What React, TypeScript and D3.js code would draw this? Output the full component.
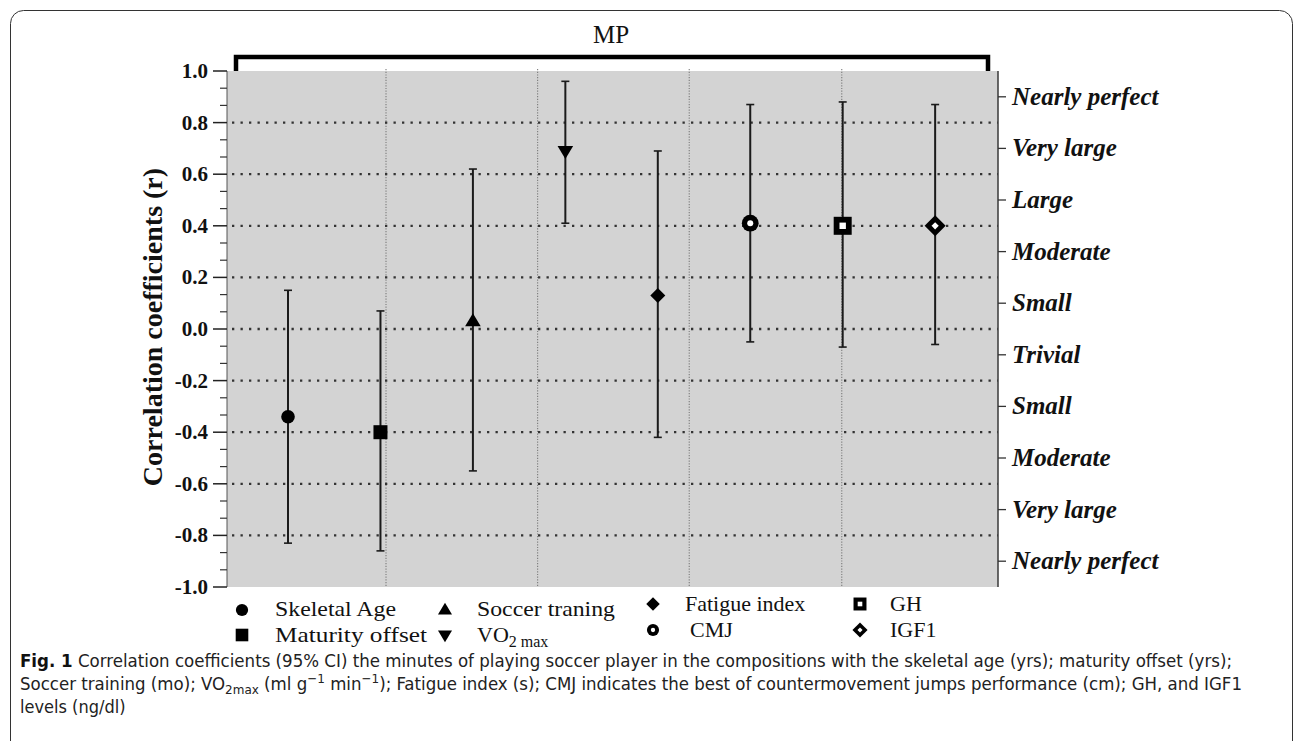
import React from "react";
import * as d3 from "d3";

// ---------------- data ----------------
const categories = ["Skeletal Age", "Maturity offset", "Soccer traning", "VO2max", "Fatigue index", "CMJ", "GH", "IGF1"];
const rValues = [-0.34, -0.4, 0.03, 0.69, 0.13, 0.41, 0.4, 0.4];
const lowerCI = [-0.83, -0.86, -0.55, 0.41, -0.42, -0.05, -0.07, -0.06];
const upperCI = [0.15, 0.07, 0.62, 0.96, 0.69, 0.87, 0.88, 0.87];
const markerTypes = ["circle", "square", "triUp", "triDown", "diamond", "openCircle", "openSquare", "openDiamond"];

const yTicks = [1.0, 0.8, 0.6, 0.4, 0.2, 0.0, -0.2, -0.4, -0.6, -0.8, -1.0];
const gridValues = [0.8, 0.6, 0.4, 0.2, 0.0, -0.2, -0.4, -0.6, -0.8];
const groupDividers = [1.06, 2.7, 4.34, 5.99];
const rightTickValues = [0.9, 0.7, 0.5, 0.3, 0.1, -0.1, -0.3, -0.5, -0.7, -0.9];
const rightLabels = ["Nearly perfect", "Very large", "Large", "Moderate", "Small", "Trivial", "Small", "Moderate", "Very large", "Nearly perfect"];

// ---------------- layout ----------------
const W = 1295, H = 741;
const PL = 227, PR = 998, PT = 71, PB = 587;
const serif = "'Liberation Serif', 'Times New Roman', serif";
const capFont = "'Liberation Sans Narrow', 'DejaVu Sans Condensed', 'Liberation Sans', sans-serif";

const x = d3.scaleLinear().domain([-0.66, 7.68]).range([PL, PR]);
const y = d3.scaleLinear().domain([-1, 1]).range([PB, PT]);

function Marker({ type, cx, cy, s = 1 }: { type: string; cx: number; cy: number; s?: number }) {
  switch (type) {
    case "circle":
      return <circle cx={cx} cy={cy} r={6.8 * s} fill="#000" />;
    case "square":
      return <rect x={cx - 7 * s} y={cy - 7 * s} width={14 * s} height={14 * s} fill="#000" />;
    case "triUp": {
      const h = 13 * s, w = 7.8 * s;
      return <path d={`M${cx},${cy - h * 0.62}L${cx + w},${cy + h * 0.38}L${cx - w},${cy + h * 0.38}Z`} fill="#000" />;
    }
    case "triDown": {
      const h = 13 * s, w = 7.8 * s;
      return <path d={`M${cx},${cy + h * 0.62}L${cx + w},${cy - h * 0.38}L${cx - w},${cy - h * 0.38}Z`} fill="#000" />;
    }
    case "diamond": {
      const r = 7.5 * s;
      return <path d={`M${cx},${cy - r}L${cx + r},${cy}L${cx},${cy + r}L${cx - r},${cy}Z`} fill="#000" />;
    }
    case "openCircle":
      return (
        <g>
          <circle cx={cx} cy={cy} r={8.4 * s} fill="#000" />
          <circle cx={cx} cy={cy} r={3 * s} fill="#fff" />
        </g>
      );
    case "openSquare":
      return (
        <g>
          <rect x={cx - 9 * s} y={cy - 9 * s} width={18 * s} height={18 * s} fill="#000" />
          <rect x={cx - 3.2 * s} y={cy - 3.2 * s} width={6.4 * s} height={6.4 * s} fill="#fff" />
        </g>
      );
    case "openDiamond": {
      const r = 10.5 * s, ri = 3.6 * s;
      return (
        <g>
          <path d={`M${cx},${cy - r}L${cx + r},${cy}L${cx},${cy + r}L${cx - r},${cy}Z`} fill="#000" />
          <path d={`M${cx},${cy - ri}L${cx + ri},${cy}L${cx},${cy + ri}L${cx - ri},${cy}Z`} fill="#fff" />
        </g>
      );
    }
  }
  return null;
}

export default function App() {
  const minorTicks: number[] = [];
  for (let i = 0; i < yTicks.length - 1; i++) {
    const a = yTicks[i], b = yTicks[i + 1];
    minorTicks.push(a + (b - a) / 3, a + (2 * (b - a)) / 3);
  }

  const legend = [
    { i: 0, mx: 242, my: 610, tx: 275, ty: 616 },
    { i: 1, mx: 242, my: 635, tx: 275, ty: 642 },
    { i: 2, mx: 445, my: 610, tx: 477, ty: 616 },
    { i: 3, mx: 445, my: 635, tx: 477, ty: 642 },
    { i: 4, mx: 653, my: 604, tx: 685, ty: 611 },
    { i: 5, mx: 653, my: 630, tx: 690, ty: 637 },
    { i: 6, mx: 860, my: 604, tx: 890, ty: 611 },
    { i: 7, mx: 860, my: 630, tx: 890, ty: 637 },
  ];

  return (
    <svg width={W} height={H} style={{ position: "absolute", left: 0, top: 0, background: "#fff" }}>
      {/* outer frame */}
      <rect x={10.5} y={10.5} width={1282} height={780} rx={13} fill="none" stroke="#333" strokeWidth={1} />

      {/* MP bracket */}
      <text x={611} y={43} textAnchor="middle" fontFamily={serif} fontSize={25} fill="#111">MP</text>
      <path d={`M${236},${PT}V${57}H${988}V${PT}`} fill="none" stroke="#000" strokeWidth={4.5} />

      {/* plot background */}
      <rect x={PL} y={PT} width={PR - PL} height={PB - PT} fill="#d3d3d3" />

      {/* group dividers */}
      {groupDividers.map((d, k) => (
        <line key={"v" + k} x1={x(d)} x2={x(d)} y1={PT - 2} y2={PB} stroke="#7a7a7a" strokeWidth={1.1} strokeDasharray="1.2 1.5" />
      ))}

      {/* horizontal dotted grid */}
      {gridValues.map((g, k) => (
        <line key={"h" + k} x1={PL + 5} x2={PR} y1={y(g)} y2={y(g)} stroke="#333" strokeWidth={2.3} strokeDasharray="2.3 6.2" />
      ))}

      {/* left axis */}
      <line x1={PL} x2={PL} y1={PT} y2={PB} stroke="#555" strokeWidth={1} />
      {yTicks.map((t, k) => (
        <g key={"yt" + k}>
          <line x1={PL - 14} x2={PL} y1={y(t)} y2={y(t)} stroke="#222" strokeWidth={1.5} />
          <text x={208} y={y(t) + 7} textAnchor="end" fontFamily={serif} fontWeight="bold" fontSize={21} fill="#111">
            {d3.format(".1f")(t).replace("−", "-")}
          </text>
        </g>
      ))}
      {minorTicks.map((t, k) => (
        <line key={"mt" + k} x1={PL - 7} x2={PL} y1={y(t)} y2={y(t)} stroke="#333" strokeWidth={1.2} />
      ))}
      <text transform={`translate(162, ${(PT + PB) / 2 - 2}) rotate(-90)`} textAnchor="middle" fontFamily={serif} fontWeight="bold" fontSize={28} fill="#111">
        Correlation coefficients (r)
      </text>

      {/* right axis */}
      <line x1={PR} x2={PR} y1={PT} y2={PB} stroke="#444" strokeWidth={1.6} />
      {rightTickValues.map((t, k) => (
        <g key={"rt" + k}>
          <line x1={PR} x2={PR + 8} y1={y(t)} y2={y(t)} stroke="#333" strokeWidth={1.3} />
          <text x={1012} y={y(t) + 8} fontFamily={serif} fontWeight="bold" fontStyle="italic" fontSize={25} fill="#111">
            {rightLabels[k]}
          </text>
        </g>
      ))}

      {/* error bars */}
      {categories.map((c, i) => {
        const cx = x(i);
        return (
          <g key={"eb" + i}>
            <line x1={cx} x2={cx} y1={y(upperCI[i])} y2={y(lowerCI[i])} stroke="#1a1a1a" strokeWidth={2} />
            <line x1={cx - 4} x2={cx + 4} y1={y(upperCI[i])} y2={y(upperCI[i])} stroke="#1a1a1a" strokeWidth={1.6} />
            <line x1={cx - 4} x2={cx + 4} y1={y(lowerCI[i])} y2={y(lowerCI[i])} stroke="#1a1a1a" strokeWidth={1.6} />
          </g>
        );
      })}
      {categories.map((c, i) => (
        <Marker key={"m" + i} type={markerTypes[i]} cx={x(i)} cy={y(rValues[i])} />
      ))}

      {/* legend */}
      {legend.map((l) => (
        <g key={"lg" + l.i}>
          <Marker type={markerTypes[l.i]} cx={l.mx} cy={l.my} s={l.i >= 5 ? 0.72 : 0.9} />
          {categories[l.i] === "VO2max" ? (
            <text x={l.tx} y={l.ty} fontFamily={serif} fontSize={22} fill="#111">
              VO<tspan fontSize={16} dy={5}>2 max</tspan>
            </text>
          ) : (
            <text x={l.tx} y={l.ty} fontFamily={serif} fontSize={22} fill="#111" textLength={l.i === 1 ? 152 : l.i === 2 ? 138 : l.i === 0 ? 121 : undefined} lengthAdjust="spacingAndGlyphs">
              {categories[l.i]}
            </text>
          )}
        </g>
      ))}

      {/* caption */}
      <text x={20} y={667} fontFamily={capFont} fontSize={18} fill="#222" textLength={1212} lengthAdjust="spacingAndGlyphs">
        <tspan fontWeight="bold" fill="#111">Fig. 1</tspan>
        <tspan>{"  Correlation coefficients (95% CI) the minutes of playing soccer player in the compositions with the skeletal age (yrs); maturity offset (yrs);"}</tspan>
      </text>
      <text x={20} y={690} fontFamily={capFont} fontSize={18} fill="#222" textLength={1222} lengthAdjust="spacingAndGlyphs">
        <tspan>{"Soccer training (mo); VO"}</tspan>
        <tspan fontSize={13} dy={4}>2max</tspan>
        <tspan dy={-4}>{" (ml g"}</tspan>
        <tspan fontSize={13} dy={-7}>−1</tspan>
        <tspan dy={7}>{" min"}</tspan>
        <tspan fontSize={13} dy={-7}>−1</tspan>
        <tspan dy={7}>{"); Fatigue index (s); CMJ indicates the best of countermovement jumps performance (cm); GH, and IGF1"}</tspan>
      </text>
      <text x={20} y={713} fontFamily={capFont} fontSize={18} fill="#222">
        levels (ng/dl)
      </text>
    </svg>
  );
}
